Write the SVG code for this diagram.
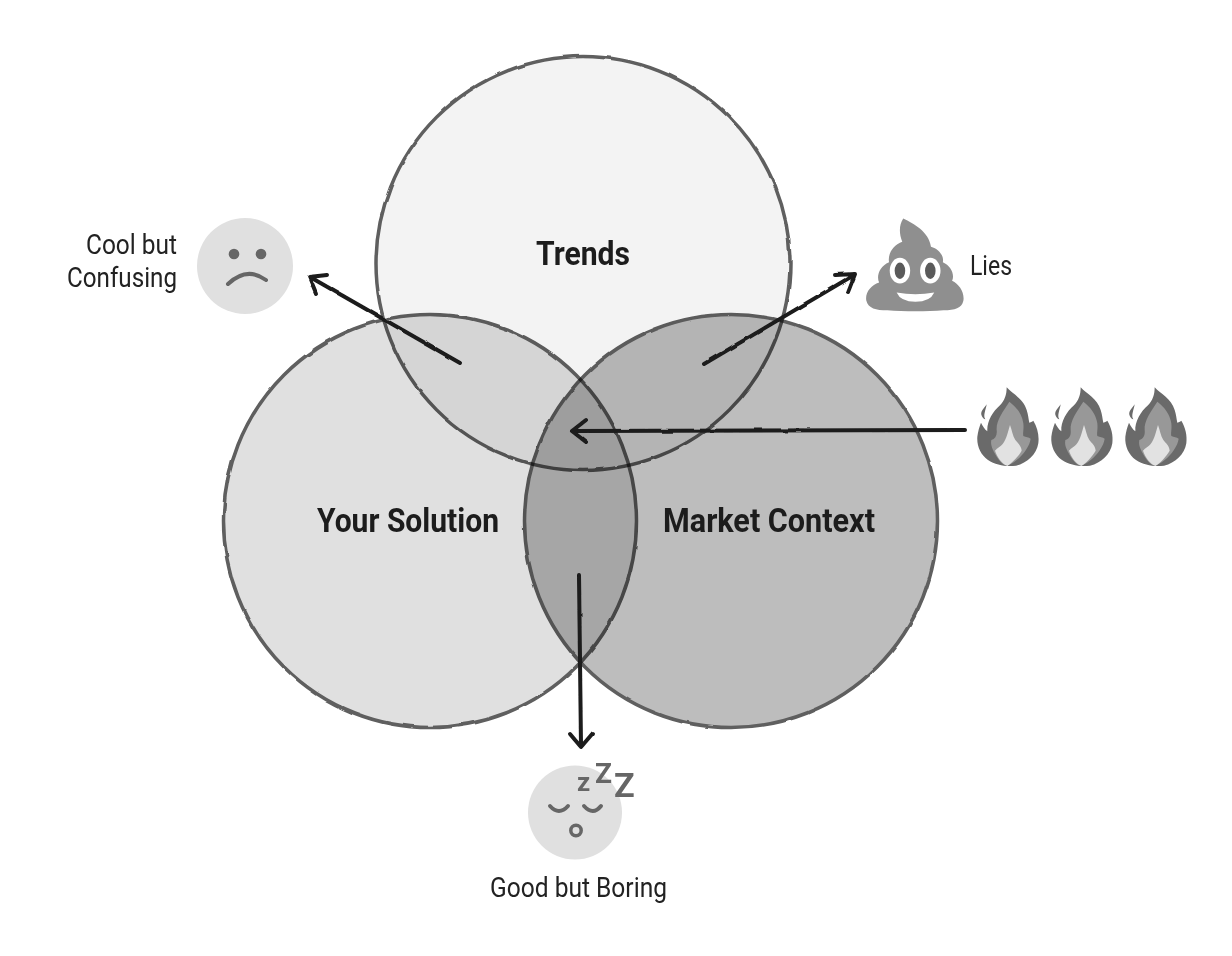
<svg xmlns="http://www.w3.org/2000/svg" width="1232" height="956" viewBox="0 0 1232 956">
<defs>
<filter id="rough" x="-5%" y="-5%" width="110%" height="110%"><feTurbulence type="fractalNoise" baseFrequency="0.05" numOctaves="2" seed="4"/><feDisplacementMap in="SourceGraphic" scale="2.500" xChannelSelector="R" yChannelSelector="G"/></filter>
<g id="fl" transform="translate(970 380) scale(.3333)">
<path fill="#6a6a6a" d="M110 22C128 42 160 56 170 90C175 105 175 115 178 128C184 126 188 124 190 122C202 142 208 165 205 190C200 222 172 250 138 257C110 261 78 256 54 240C32 224 20 198 22 170C24 154 28 140 33 128C38 138 44 148 52 154C50 125 68 95 90 76C104 62 110 45 110 22Z"/>
<path fill="#6a6a6a" d="M50 73C44 84 32 92 34 104C36 112 42 118 46 118C38 108 48 88 50 73Z"/>
<path fill="#989898" d="M118 65C138 80 156 102 160 130C162 148 158 158 160 168C168 172 176 172 182 176C180 196 160 225 140 240C128 250 118 256 105 256C92 250 78 230 68 208C64 198 62 190 64 180C76 176 82 166 80 150C78 122 98 96 118 65Z"/>
<path fill="#e2e2e2" d="M120 135C126 150 128 168 136 180C144 190 154 198 155 212C145 230 125 250 112 258C96 252 82 232 75 212C82 204 92 200 98 192C110 176 114 155 120 135Z"/>
</g>
</defs>
<style>
.c{stroke:#5e5e5e;stroke-width:3.500;mix-blend-mode:multiply;filter:url(#rough)}
.l{font-family:Roboto,"Liberation Sans",sans-serif;font-size:27px;fill:#222}
.b{font-family:Roboto,"Liberation Sans",sans-serif;font-size:33px;font-weight:700;fill:#1c1c1c;text-anchor:middle}
.a{fill:none;stroke:#1a1a1a;stroke-width:4;stroke-linecap:round;stroke-linejoin:round}
.f{fill:#e0e0e0}
.d{fill:#666}
.s{fill:none;stroke:#666;stroke-width:4;stroke-linecap:round}
.z{font-family:Roboto,"Liberation Sans",sans-serif;font-weight:700;fill:#666}
</style>
<rect width="1232" height="956" fill="#fff"/>
<g id="circles" style="isolation:isolate">
<circle id="trends" class="c" cx="583" cy="263.500" r="207" fill="#f3f3f3"/>
<circle id="solution" class="c" cx="430" cy="521" r="206.500" fill="#e0e0e0"/>
<circle id="market" class="c" cx="731" cy="521" r="206.500" fill="#bdbdbd"/>
</g>
<g id="labels">
<text class="b" x="583" y="265" textLength="94" lengthAdjust="spacingAndGlyphs">Trends</text>
<text class="b" x="408" y="532" textLength="182" lengthAdjust="spacingAndGlyphs">Your Solution</text>
<text class="b" x="769" y="532" textLength="212" lengthAdjust="spacingAndGlyphs">Market Context</text>
</g>
<g id="connectors" filter="url(#rough)">
<path class="a" d="M460 363L310 277M327 275L309 277L316 294"/>
<path class="a" d="M704 364L854 275M835 275L855 274L848 292"/>
<path class="a" d="M965 430L572 431M586 420L572 431L586 442"/>
<path class="a" d="M579 575L581 746M570 734L581 747L593 733"/>
</g>
<g id="cool">
<circle class="f" cx="245" cy="266" r="48"/>
<circle class="d" cx="234" cy="254" r="5.300"/><circle class="d" cx="261" cy="254" r="5.300"/>
<path class="s" d="M228 284Q247 266 266 280"/>
<text class="l" x="86" y="254" textLength="91" lengthAdjust="spacingAndGlyphs">Cool but</text>
<text class="l" x="67" y="287" textLength="110" lengthAdjust="spacingAndGlyphs">Confusing</text>
</g>
<g id="lies">
<g transform="translate(861 212) scale(.33)">
<path fill="#8f8f8f" d="M128 20C160 35 205 60 212 105C238 112 252 135 248 152C272 162 285 190 276 208C298 218 315 245 310 270C305 292 285 298 250 298C200 302 130 302 80 298C45 298 22 292 16 268C12 245 30 222 55 214C46 195 55 165 85 152C80 125 100 98 125 90C115 65 115 40 128 20Z"/>
<ellipse cx="118" cy="178" rx="31" ry="39" fill="#fff"/><ellipse cx="210" cy="178" rx="31" ry="39" fill="#fff"/>
<ellipse cx="118" cy="178" rx="16" ry="25" fill="#5a5a5a"/><ellipse cx="210" cy="178" rx="16" ry="25" fill="#5a5a5a"/>
<path fill="#fff" d="M108 244Q165 254 222 244Q210 272 165 272Q120 272 108 244Z"/>
</g>
<text class="l" x="970" y="275" textLength="42" lengthAdjust="spacingAndGlyphs">Lies</text>
</g>
<g id="fire">
<use href="#fl"/><use href="#fl" x="74"/><use href="#fl" x="148"/>
</g>
<g id="boring">
<circle class="f" cx="575" cy="812.500" r="47"/>
<path class="s" d="M550 806Q559 816 568 806M584 806Q593 816 601 806" stroke-width="3.500"/>
<circle cx="576" cy="830.500" r="5.200" fill="none" stroke="#666" stroke-width="3.500"/>
<text class="z" x="577" y="791" font-size="26">z</text>
<text class="z" x="595" y="783" font-size="28">Z</text>
<text class="z" x="614" y="797" font-size="34">Z</text>
<text class="l" x="490" y="897" textLength="177" lengthAdjust="spacingAndGlyphs">Good but Boring</text>
</g>
</svg>
